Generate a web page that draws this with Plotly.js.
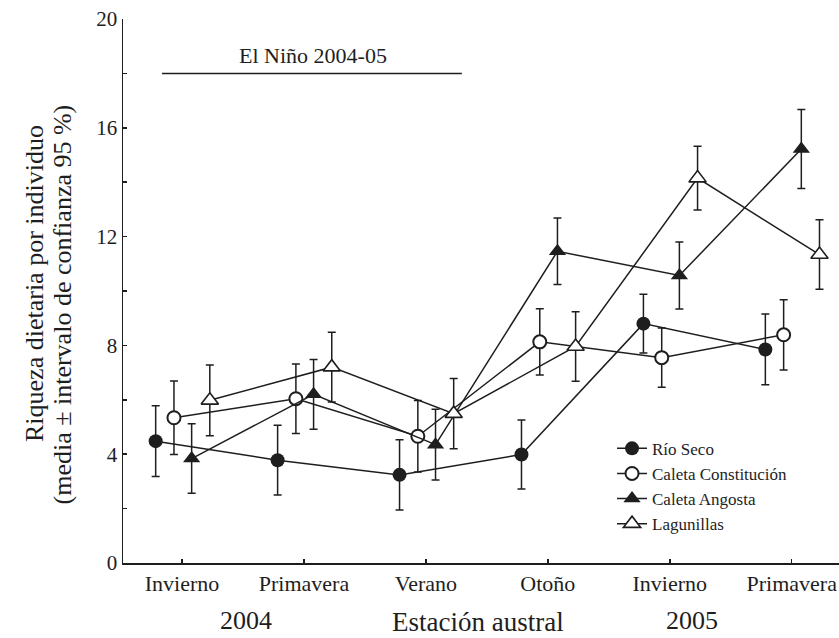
<!DOCTYPE html>
<html><head><meta charset="utf-8">
<script src="https://cdn.plot.ly/plotly-3.0.1.min.js"></script>
<style>html,body{margin:0;padding:0;background:#fff;}#chart{width:839px;height:638px;}</style>
</head><body><div id="chart"></div>
<script>
// Season labels (austral seasons, winter 2004 to spring 2005)
const seasons = ["Invierno", "Primavera", "Verano", "Otoño", "Invierno", "Primavera"];
const years = ["2004", "2005"];
const seriesNames = ["Río Seco", "Caleta Constitución", "Caleta Angosta", "Lagunillas"];

// Mean dietary richness per individual and 95% CI half-widths
const rioSeco      = [4.48, 3.78, 3.24, 3.99, 8.80, 7.85];
const rioSecoCI    = [1.30, 1.28, 1.29, 1.27, 1.08, 1.30];
const constitucion   = [5.34, 6.04, 4.66, 8.13, 7.55, 8.39];
const constitucionCI = [1.35, 1.28, 1.31, 1.22, 1.09, 1.29];
const angosta      = [3.84, 6.20, 4.35, 11.46, 10.57, 15.22];
const angostaCI    = [1.28, 1.28, 1.30, 1.22, 1.23, 1.45];
const lagunillas   = [5.98, 7.20, 5.49, 7.96, 14.15, 11.34];
const lagunillasCI = [1.30, 1.28, 1.29, 1.28, 1.17, 1.28];

const yTickVals = [0, 2, 4, 6, 8, 10, 12, 14, 16, 18, 20];
const yTickText = ["0", "", "4", "", "8", "", "12", "", "16", "", "20"];

// layout constants
const FONT = "Liberation Serif";
const INK = "#1e1e1e";
const seasonPos = seasons.map((s, i) => i + 1);
const dodge = [-0.216, -0.066, 0.079, 0.228];

const values = [rioSeco, constitucion, angosta, lagunillas];
const cis = [rioSecoCI, constitucionCI, angostaCI, lagunillasCI];
const markerStyles = [
  {symbol: "circle", size: 14, color: INK, line: {width: 0}},
  {symbol: "circle", size: 13, color: "#ffffff", line: {color: INK, width: 2}},
  {symbol: "triangle-up", size: 15, color: INK, line: {width: 0}},
  {symbol: "triangle-up", size: 15, color: "#ffffff", line: {color: INK, width: 1.6}}
];

const traces = values.map((v, k) => ({
  type: "scatter",
  mode: "lines+markers",
  name: seriesNames[k],
  x: seasonPos.map(p => p + dodge[k]),
  y: v,
  error_y: {type: "data", array: cis[k], visible: true, color: INK, thickness: 1.5, width: 4},
  line: {color: INK, width: 1.5},
  marker: markerStyles[k],
  cliponaxis: false
}));

const layout = {
  width: 839, height: 638,
  margin: {l: 123, r: 0, t: 19, b: 75},
  paper_bgcolor: "#fff", plot_bgcolor: "#fff",
  font: {family: FONT, color: INK, size: 18},
  showlegend: true,
  legend: {
    x: 0.683, y: 0.243, xanchor: "left", yanchor: "top",
    font: {family: FONT, size: 17, color: INK},
    bgcolor: "rgba(0,0,0,0)", borderwidth: 0, itemwidth: 30
  },
  xaxis: {
    range: [0.516, 6.388],
    tickvals: seasonPos, ticktext: seasons,
    ticks: "inside", ticklen: 4, tickwidth: 1.5, tickcolor: INK,
    showline: true, linecolor: INK, linewidth: 1.5,
    showgrid: false, zeroline: false,
    tickfont: {family: FONT, size: 22, color: INK}
  },
  yaxis: {
    range: [0, 20],
    tickvals: yTickVals, ticktext: yTickText,
    ticks: "inside", ticklen: 4, tickwidth: 1.5, tickcolor: INK,
    showline: true, linecolor: INK, linewidth: 1.5,
    showgrid: false, zeroline: false,
    tickfont: {family: FONT, size: 21, color: INK}
  },
  shapes: [
    {type: "line", xref: "x", yref: "y", x0: 0.836, x1: 3.295, y0: 18, y1: 18,
     line: {color: INK, width: 1.5}}
  ],
  annotations: [
    {text: "El Niño 2004-05", xref: "x", yref: "y", x: 2.075, y: 18.65,
     showarrow: false, xanchor: "center", yanchor: "middle", font: {family: FONT, size: 22}},
    {text: years[0], xref: "x", yref: "paper", x: 1.525, y: -0.1066,
     showarrow: false, xanchor: "center", yanchor: "middle", font: {family: FONT, size: 26}},
    {text: years[1], xref: "x", yref: "paper", x: 5.18, y: -0.1066,
     showarrow: false, xanchor: "center", yanchor: "middle", font: {family: FONT, size: 26}},
    {text: "Estación austral", xref: "x", yref: "paper", x: 3.428, y: -0.1085,
     showarrow: false, xanchor: "center", yanchor: "middle", font: {family: FONT, size: 27}},
    {text: "Riqueza dietaria por individuo", xref: "paper", yref: "paper",
     x: -0.1229, y: 0.5129, textangle: -90, showarrow: false,
     xanchor: "center", yanchor: "middle", font: {family: FONT, size: 26}},
    {text: "(media ± intervalo de confianza 95 %)", xref: "paper", yref: "paper",
     x: -0.0852, y: 0.4752, textangle: -90, showarrow: false,
     xanchor: "center", yanchor: "middle", font: {family: FONT, size: 26}}
  ]
};

Plotly.newPlot("chart", traces, layout, {displayModeBar: false, staticPlot: true});
</script>
</body></html>
